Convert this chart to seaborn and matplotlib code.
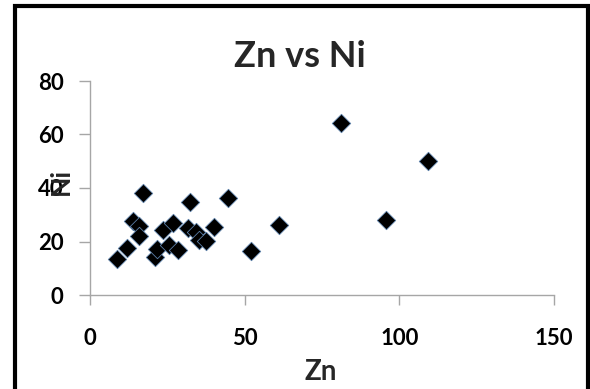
import numpy as np
import pandas as pd
import matplotlib
matplotlib.use("Agg")
import matplotlib.pyplot as plt
import matplotlib.ticker as ticker
from matplotlib.patches import Rectangle
import seaborn as sns

# Data
zn = [8.6, 12.0, 13.8, 15.9, 15.7, 17.0, 21.0, 21.7, 23.5, 25.7, 26.8, 28.6,
      31.8, 32.4, 34.4, 35.2, 37.5, 40.0, 44.5, 52.2, 61.0, 81.3, 95.7, 109.3]
ni = [13.3, 17.5, 27.5, 25.8, 21.9, 38.3, 14.2, 17.3, 24.2, 18.7, 26.9, 16.9,
      25.0, 34.9, 23.6, 20.5, 20.3, 25.6, 36.4, 16.5, 26.2, 64.4, 28.1, 50.1]
x_ticks = [0, 50, 100, 150]
y_ticks = [0, 20, 40, 60, 80]

sns.set_theme(style="white")
plt.rcParams["font.family"] = ["Lato", "DejaVu Sans"]

df = pd.DataFrame({"Zn": zn, "Ni": ni})

W, H = 590, 389
fig = plt.figure(figsize=(W / 100, H / 100), dpi=100)
fig.patch.set_facecolor("white")
ax = fig.add_axes([90 / W, 1 - 295 / H, 464 / W, 214 / H])

sns.scatterplot(data=df, x="Zn", y="Ni", marker="D", s=88, color="black",
                edgecolor="#5b7fa8", linewidth=0.6, ax=ax, zorder=3)

ax.set_xlim(0, 150)
ax.set_ylim(0, 80)
ax.set_xticks(x_ticks)
ax.set_yticks(y_ticks)
ax.xaxis.set_major_formatter(ticker.FormatStrFormatter("%d"))

axis_grey = "#a6a6a6"
for side in ["top", "right"]:
    ax.spines[side].set_visible(False)
for side in ["left", "bottom"]:
    ax.spines[side].set_color(axis_grey)
    ax.spines[side].set_linewidth(1.0)

ax.tick_params(axis="y", direction="out", length=8, width=1.0, color=axis_grey,
               left=True, pad=11, labelsize=16, labelcolor="black")
ax.tick_params(axis="x", direction="out", length=7, width=1.0, color=axis_grey,
               bottom=True, pad=17, labelsize=16, labelcolor="black")
for lab in ax.get_xticklabels() + ax.get_yticklabels():
    lab.set_fontweight("bold")

ax.set_xlabel("")
ax.set_ylabel("")
fig.text(300 / W, 1 - 67 / H, "Zn vs Ni", fontsize=26, fontweight="bold",
         ha="center", va="baseline")
fig.text(321 / W, 1 - 380 / H, "Zn", fontsize=20, fontweight="bold",
         ha="center", va="baseline")
fig.text(61 / W, 1 - 182 / H, "Ni", rotation=90, fontsize=19, fontweight="bold",
         ha="center", va="center")

# Black frame around the chart
fig.patches.append(Rectangle((15 / W, -0.05), 572.5 / W, 1.05 - 6.5 / H,
                             transform=fig.transFigure, fill=False,
                             edgecolor="black", linewidth=3))

fig.savefig("out.png", dpi=100)
